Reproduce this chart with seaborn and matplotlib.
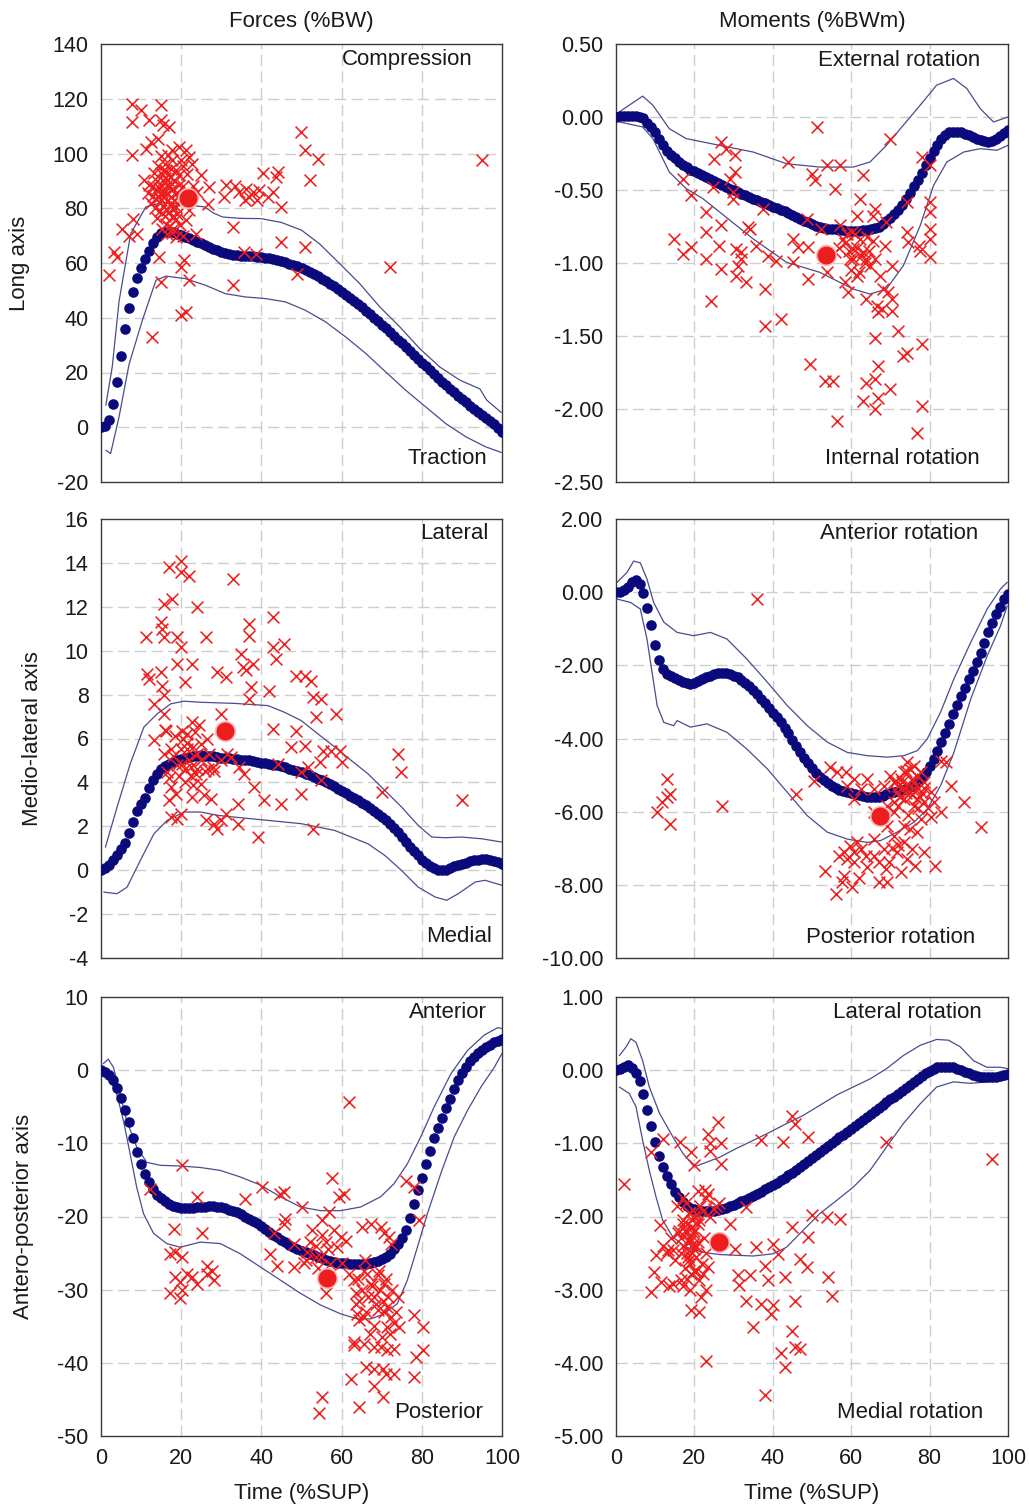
import matplotlib
matplotlib.use("Agg")
import matplotlib.pyplot as plt
import seaborn as sns

# ---------------------------------------------------------------------------
# Time base of the averaged curves (% of support phase)
TIME = list(range(101))

# Mean curves, one value per percent of the support phase
long_force_mean = [
    0, 0.3, 2.5, 8.5, 16.5, 26, 36, 43.5, 49.5, 54.5, 58, 61.3, 64.5, 67.3, 69.5, 71, 71.5, 71.5, 71.2, 70.7,
    70.2, 69.6, 69, 68.4, 67.8, 67.2, 66.5, 65.8, 65.2, 64.6, 64.1, 63.7, 63.3, 63.1, 62.9, 62.7, 62.6, 62.5, 62.4, 62.3,
    62.2, 62.0, 61.8, 61.5, 61.2, 60.8, 60.3, 59.8, 59.3, 58.8, 58.2, 57.5, 56.8, 56.0, 55.2, 54.3, 53.4, 52.5, 51.5, 50.5,
    49.5, 48.4, 47.3, 46.2, 45.0, 43.8, 42.6, 41.3, 40.0, 38.7, 37.4, 36.1, 34.8, 33.4, 32.0, 30.6, 29.2, 27.8, 26.4, 25.0,
    23.6, 22.2, 20.8, 19.4, 18.0, 16.7, 15.4, 14.1, 12.8, 11.5, 10.3, 9.1, 7.9, 6.8, 5.7, 4.6, 3.5, 2.4, 1.2, -0.3, -1.7]

long_moment_mean = [
    0, 0.01, 0.01, 0.01, 0.01, 0.01, 0.0, -0.01, -0.04, -0.07, -0.1, -0.15, -0.19, -0.23, -0.26, -0.28, -0.31, -0.33, -0.345, -0.36,
    -0.37, -0.385, -0.40, -0.41, -0.425, -0.44, -0.45, -0.465, -0.48, -0.49, -0.50, -0.515, -0.525, -0.535, -0.545, -0.56, -0.57, -0.58, -0.59, -0.60,
    -0.615, -0.625, -0.635, -0.645, -0.66, -0.67, -0.685, -0.70, -0.71, -0.72, -0.735, -0.745, -0.755, -0.76, -0.765, -0.77, -0.77, -0.775, -0.775, -0.78,
    -0.78, -0.78, -0.78, -0.775, -0.775, -0.77, -0.76, -0.75, -0.735, -0.715, -0.69, -0.665, -0.635, -0.60, -0.56, -0.52, -0.475, -0.43, -0.385, -0.33,
    -0.28, -0.235, -0.19, -0.15, -0.12, -0.105, -0.10, -0.10, -0.105, -0.115, -0.125, -0.14, -0.15, -0.16, -0.165, -0.17, -0.165, -0.15, -0.13, -0.11, -0.09]

ml_force_mean = [
    0, 0.1, 0.25, 0.45, 0.67, 0.95, 1.25, 1.7, 2.2, 2.7, 3.0, 3.3, 3.75, 4.1, 4.4, 4.6, 4.75, 4.85, 4.95, 5.02,
    5.08, 5.12, 5.16, 5.2, 5.22, 5.23, 5.22, 5.2, 5.18, 5.15, 5.13, 5.11, 5.09, 5.07, 5.05, 5.04, 5.02, 5.0, 4.98, 4.94,
    4.9, 4.87, 4.83, 4.8, 4.77, 4.73, 4.68, 4.63, 4.58, 4.52, 4.46, 4.4, 4.33, 4.25, 4.17, 4.09, 4.0, 3.91, 3.82, 3.72,
    3.62, 3.51, 3.4, 3.29, 3.18, 3.07, 2.95, 2.83, 2.7, 2.57, 2.44, 2.3, 2.12, 1.94, 1.73, 1.5, 1.28, 1.07, 0.87, 0.67,
    0.48, 0.32, 0.18, 0.08, 0.02, -0.01, 0.0, 0.08, 0.18, 0.25, 0.3, 0.35, 0.4, 0.45, 0.48, 0.5, 0.5, 0.47, 0.42, 0.36, 0.3]

ml_moment_mean = [
    0, 0.01, 0.06, 0.15, 0.27, 0.33, 0.22, -0.03, -0.42, -0.9, -1.44, -1.85, -2.1, -2.24, -2.3, -2.35, -2.4, -2.45, -2.49, -2.51,
    -2.49, -2.44, -2.38, -2.33, -2.28, -2.24, -2.22, -2.21, -2.22, -2.24, -2.28, -2.33, -2.39, -2.47, -2.57, -2.68, -2.79, -2.91, -3.03, -3.16,
    -3.29, -3.42, -3.56, -3.71, -3.86, -4.03, -4.2, -4.36, -4.52, -4.67, -4.8, -4.93, -5.04, -5.13, -5.21, -5.29, -5.35, -5.4, -5.44, -5.47,
    -5.5, -5.53, -5.55, -5.58, -5.6, -5.61, -5.61, -5.6, -5.57, -5.53, -5.5, -5.47, -5.44, -5.41, -5.38, -5.33, -5.28, -5.2, -5.08, -4.92,
    -4.75, -4.55, -4.33, -4.1, -3.86, -3.6, -3.33, -3.08, -2.85, -2.62, -2.38, -2.15, -1.9, -1.65, -1.38, -1.1, -0.83, -0.6, -0.4, -0.2, -0.05]

ap_force_mean = [
    0, -0.2, -0.6, -1.3, -2.4, -3.8, -5.5, -7.1, -9.3, -11.2, -12.8, -14.2, -15.3, -16.2, -17.0, -17.5, -17.9, -18.3, -18.6, -18.75,
    -18.8, -18.85, -18.85, -18.8, -18.75, -18.7, -18.65, -18.6, -18.6, -18.65, -18.75, -18.9, -19.05, -19.2, -19.45, -19.7, -20.0, -20.3, -20.6, -20.9,
    -21.3, -21.7, -22.1, -22.5, -22.85, -23.2, -23.55, -23.9, -24.2, -24.45, -24.7, -24.9, -25.1, -25.3, -25.5, -25.7, -25.9, -26.05, -26.2, -26.3,
    -26.35, -26.4, -26.45, -26.5, -26.5, -26.5, -26.45, -26.35, -26.25, -26.1, -25.85, -25.5, -25.1, -24.5, -23.8, -23.0, -21.9, -20.2, -18.3, -16.4,
    -14.7, -12.8, -11.0, -9.3, -7.9, -6.5, -5.2, -3.9, -2.6, -1.4, -0.4, 0.5, 1.2, 1.8, 2.3, 2.8, 3.2, 3.5, 3.8, 4.0, 4.2]

ap_moment_mean = [
    0, 0.02, 0.05, 0.07, 0.03, -0.04, -0.15, -0.33, -0.55, -0.76, -0.98, -1.17, -1.33, -1.45, -1.56, -1.66, -1.74, -1.8, -1.85, -1.88,
    -1.9, -1.92, -1.93, -1.93, -1.93, -1.92, -1.91, -1.9, -1.88, -1.86, -1.84, -1.82, -1.79, -1.77, -1.75, -1.72, -1.69, -1.66, -1.63, -1.6,
    -1.57, -1.54, -1.5, -1.47, -1.43, -1.4, -1.36, -1.32, -1.28, -1.24, -1.2, -1.16, -1.12, -1.08, -1.04, -1.0, -0.96, -0.92, -0.88, -0.84,
    -0.8, -0.76, -0.72, -0.68, -0.64, -0.6, -0.56, -0.52, -0.48, -0.44, -0.4, -0.36, -0.32, -0.28, -0.24, -0.2, -0.16, -0.12, -0.08, -0.04,
    -0.01, 0.02, 0.04, 0.05, 0.05, 0.05, 0.04, 0.02, 0.0, -0.02, -0.04, -0.06, -0.08, -0.09, -0.1, -0.1, -0.1, -0.09, -0.08, -0.06, -0.05]

# +/- 1 SD envelopes (time, value)
long_force_upper_t = [1.2, 2.8, 4.5, 7.4, 11.2, 15, 20, 25.8, 28, 30.3, 35, 40, 45, 50, 54.5, 59.5, 64.5, 69.5, 74.5, 79.5, 84.5, 89.5, 94.5, 96.2, 99.8]
long_force_upper = [8, 22, 46, 70.7, 80.5, 82, 81.5, 80.5, 78.3, 76.8, 76.3, 76.2, 74.8, 72, 67, 59.8, 52.5, 44, 36.7, 28.7, 22, 17.2, 14, 9.9, 5.4]
long_force_lower_t = [1.2, 2.4, 4.5, 7, 10.3, 13.7, 16.2, 21, 26, 31, 36, 41, 46, 51, 56, 61, 66, 71, 76, 81, 86, 91, 96, 99.8]
long_force_lower = [-8.4, -9.6, 3.8, 23, 39, 53.7, 55.2, 54.3, 51.9, 48.8, 47.6, 47, 45.8, 42.7, 38.5, 33, 27, 20.2, 13.5, 7.4, 1.3, -3.5, -7.2, -9.2]

long_moment_upper_t = [0.85, 6.8, 9.4, 13.6, 17.9, 26.4, 35, 43.5, 52, 60.5, 64.8, 69, 73.3, 77.6, 81.8, 86.1, 89.5, 92.9, 96.3, 100]
long_moment_upper = [0.035, 0.143, 0.081, -0.08, -0.148, -0.194, -0.24, -0.32, -0.343, -0.343, -0.308, -0.194, -0.056, 0.081, 0.218, 0.264, 0.195, 0.058, -0.034, 0.0]
long_moment_lower_t = [0.85, 6.8, 9.4, 13.6, 17.9, 22.2, 26.4, 35, 43.5, 52, 60.5, 64.8, 69, 73.3, 77.6, 81, 84.4, 88.7, 92.9, 97.2, 100]
long_moment_lower = [-0.034, -0.068, -0.148, -0.377, -0.49, -0.56, -0.65, -0.835, -0.995, -1.064, -1.178, -1.213, -1.178, -1.018, -0.744, -0.469, -0.308, -0.24, -0.217, -0.228, -0.194]

ml_force_upper_t = [1.1, 4, 7.3, 10.7, 14, 17.4, 20.7, 24.9, 33.2, 41.6, 45.7, 49.9, 54.1, 58.3, 62.4, 66.6, 70.8, 75, 79.1, 82.5, 85.8, 90, 95, 100]
ml_force_upper = [1.05, 2.87, 4.85, 6.52, 7.12, 7.58, 7.7, 7.65, 7.6, 7.5, 7.2, 6.82, 6.21, 5.61, 5.0, 4.39, 3.63, 2.87, 2.04, 1.51, 1.48, 1.51, 1.43, 1.28]
ml_force_lower_t = [0.7, 4, 6.5, 9.8, 13.2, 16.5, 20.7, 24.9, 29, 33.2, 41.6, 49.9, 58.3, 66.6, 70.8, 75, 79.1, 83.3, 86.2, 89.1, 93.3, 95.8, 100]
ml_force_lower = [-1.0, -1.07, -0.77, 0.44, 1.66, 2.27, 2.65, 2.65, 2.5, 2.42, 2.27, 2.12, 1.81, 1.2, 0.67, -0.02, -0.77, -1.22, -1.37, -1.07, -0.54, -0.46, -0.69]

ml_moment_upper_t = [0.3, 2.8, 4.5, 6.2, 7.9, 9.6, 12.2, 15.6, 19.8, 24.1, 28.3, 33.4, 38.6, 43.7, 48.8, 53.9, 59, 64.1, 69.2, 73.4, 76.9, 79.4, 82.8, 86.2, 90.5, 94.7, 98.1, 99.8]
ml_moment_upper = [0.27, 0.54, 0.85, 0.8, 0.36, -0.28, -0.82, -1.1, -1.19, -1.1, -1.28, -1.83, -2.46, -3.1, -3.65, -4.1, -4.38, -4.47, -4.51, -4.47, -4.33, -4.01, -3.28, -2.37, -1.37, -0.46, 0.09, 0.27]
ml_moment_lower_t = [0.3, 3.7, 6.2, 7.9, 9.2, 10.5, 12.2, 14.7, 15.6, 19, 23.2, 28.3, 33.4, 38.6, 43.7, 48.8, 53.9, 59, 64.1, 67.5, 71.7, 76, 79.4, 82.8, 86.2, 90.5, 94.7, 98.1, 99.8]
ml_moment_lower = [-0.19, -0.28, -0.46, -1.28, -2.19, -3.1, -3.56, -3.65, -3.51, -3.69, -3.6, -3.83, -4.29, -4.83, -5.47, -6.11, -6.56, -6.75, -6.84, -6.79, -6.56, -6.29, -5.93, -5.29, -4.38, -2.92, -1.74, -0.92, -0.37]

ap_force_upper_t = [0.6, 1.8, 3.1, 4.75, 6.4, 8.9, 11.4, 14.75, 19.75, 24.75, 29.75, 34.75, 39.75, 44.75, 49.75, 54.75, 59.75, 64.75, 69.75, 73.1, 76.4, 79.75, 83.1, 87.25, 91.4, 95.6, 98.9, 100]
ap_force_upper = [0.9, 1.5, 0.4, -3.2, -6.9, -10.5, -12.6, -13, -13.1, -13.3, -13.7, -14.6, -15.7, -17.3, -18.7, -19.2, -19.2, -18.7, -17.3, -15.5, -12.8, -9.1, -5, -0.5, 2.7, 4.8, 5.8, 5.7]
ap_force_lower_t = [0.6, 2.25, 3.9, 5.6, 7.25, 8.9, 10.6, 13.1, 16.4, 19.75, 24.75, 29.75, 34.75, 39.75, 44.75, 49.75, 54.75, 59.75, 63.9, 67.25, 70.6, 73.9, 76.4, 78.9, 81.4, 84.75, 88.1, 91.4, 94.75, 98.1, 100]
ap_force_lower = [-0.5, -1.4, -3.2, -6.9, -11.4, -16, -19.6, -22.3, -23.7, -24.2, -23.5, -23.7, -25.1, -26.9, -28.7, -30.5, -32.1, -33.3, -34, -34, -33.3, -31.9, -28.7, -24.2, -19.6, -14.1, -9.1, -5.5, -2.3, 0.4, 2.3]

ap_moment_upper_t = [0.85, 2.6, 3.8, 5.1, 6.8, 8.5, 11.1, 14.5, 17.1, 20, 23, 26.4, 30.7, 35, 39.2, 43.5, 47.7, 52, 56.3, 60.5, 64.8, 69, 73.3, 77.6, 81.8, 84.8, 87.8, 91.2, 94.6, 98, 100]
ap_moment_upper = [0.2, 0.32, 0.43, 0.38, 0.13, -0.23, -0.59, -0.91, -1.14, -1.32, -1.26, -1.19, -1.07, -0.96, -0.85, -0.73, -0.62, -0.48, -0.34, -0.23, -0.12, 0.02, 0.2, 0.34, 0.42, 0.41, 0.32, 0.13, 0.04, 0.04, 0.02]
ap_moment_lower_t = [0.85, 3.4, 5.1, 6.8, 8.5, 10.2, 11.9, 14.5, 17.9, 22.2, 26.4, 30.7, 35, 40.1, 43.5, 47.7, 52, 56.3, 60.5, 64.8, 69, 73.3, 77.6, 81.8, 86.1, 90.4, 94.6, 98, 100]
ap_moment_lower = [-0.23, -0.32, -0.5, -0.96, -1.37, -1.73, -2.05, -2.28, -2.42, -2.49, -2.52, -2.53, -2.54, -2.51, -2.42, -2.19, -1.96, -1.78, -1.6, -1.37, -1.05, -0.73, -0.46, -0.23, -0.16, -0.18, -0.16, -0.14, -0.12]

# Individual peak values (time, value)
long_force_peaks = [
    (2.0, 55.5), (3.3, 64.0), (4.1, 62.2), (5.2, 72.6), (7.0, 70.0), (8.0, 76.0), (9.0, 70.7),
    (7.8, 118.2), (9.9, 115.8), (14.9, 117.6), (7.8, 111.5), (12.0, 112.1), (14.9, 112.1), (15.5, 110.5), (17.0, 109.7),
    (14.1, 105.4), (12.4, 104.2), (7.8, 99.4), (11.2, 101.8), (17.8, 101.2), (19.5, 102.4), (21.2, 101.2), (17.8, 97.5),
    (19.9, 97.5), (22.0, 98.7), (22.8, 96.3), (10.75, 90.2), (13.25, 92.7), (15.75, 93.9), (16.6, 90.2), (18.7, 93.9),
    (11.6, 85.4), (13.7, 86.6), (14.9, 82.9), (17.4, 84.1), (18.7, 80.5), (15.3, 78.1), (17.8, 76.8), (16.2, 74.4),
    (21.2, 75.6), (22.0, 79.3), (26.6, 81.7), (27.0, 87.8), (31.2, 88.4), (30.75, 84.1), (32.8, 73.2),
    (13.0, 88.0), (14.0, 90.0), (15.0, 88.5), (16.0, 86.0), (17.0, 88.0), (18.0, 87.0), (14.5, 84.0), (15.5, 81.0),
    (16.5, 79.5), (17.5, 81.5), (18.5, 90.0), (19.0, 85.5), (20.0, 83.0), (20.5, 88.0), (19.5, 92.0), (13.5, 80.0),
    (12.5, 82.0), (16.0, 96.0), (15.0, 99.0), (18.0, 72.5), (16.5, 70.5), (19.0, 78.0), (20.5, 70.0), (14.0, 76.5),
    (21.5, 92.5), (17.5, 94.5), (15.8, 84.5), (18.2, 83.0), (14.2, 95.5), (16.8, 99.5), (13.8, 83.5), (16.0, 91.0),
    (17.2, 91.5), (15.2, 86.0), (18.8, 76.0), (17.0, 73.0), (19.8, 74.0), (16.4, 82.5), (14.6, 79.0), (20.4, 95.5),
    (15.5, 90.5), (16.5, 88.5), (17.5, 86.5), (14.5, 87.5), (15.0, 93.0), (16.2, 93.5), (18.0, 80.0), (17.0, 78.5),
    (16.0, 77.0), (19.5, 88.5), (13.0, 84.5), (12.0, 88.5), (17.8, 71.0), (18.6, 69.5), (15.2, 72.5),
    (14.5, 62.2), (14.9, 53.0), (19.9, 58.6), (20.75, 61.0), (19.9, 41.0), (21.2, 42.0), (22.0, 53.7), (23.7, 70.7),
    (12.8, 33.0), (32.8, 51.9), (34.5, 86.0), (36.2, 87.2), (37.0, 84.1), (37.8, 86.0), (39.0, 83.0), (40.3, 92.7),
    (41.6, 84.0), (43.7, 91.4), (44.2, 93.3), (44.9, 80.5), (42.8, 86.0), (44.9, 67.7), (35.75, 64.0), (38.7, 63.4),
    (49.9, 107.9), (50.75, 101.2), (52.0, 90.2), (54.0, 98.1), (50.75, 65.9), (49.0, 56.1), (72.0, 58.6), (95.0, 97.5),
    (33.5, 88.0), (36.0, 83.0), (39.5, 86.5), (24.0, 86.0), (25.0, 92.0), (23.0, 88.0)]

long_moment_peaks = [
    (14.9, -0.835), (17.0, -0.938), (19.2, -0.892), (17.0, -0.423), (19.2, -0.537), (23.0, -0.652), (23.0, -0.789),
    (23.0, -0.972), (24.3, -1.259), (25.1, -0.285), (26.9, -0.171), (28.1, -0.217), (30.3, -0.263), (24.7, -0.48),
    (29.0, -0.423), (30.3, -0.377), (26.9, -0.743), (26.4, -0.881), (26.9, -1.041), (29.8, -0.514), (29.8, -0.56),
    (30.7, -0.904), (32.0, -0.927), (32.0, -0.972), (31.1, -1.018), (30.7, -1.087), (33.2, -1.133), (33.7, -0.755),
    (34.1, -0.766), (35.8, -0.881), (37.5, -0.629), (38.8, -0.95), (37.9, -1.178), (37.9, -1.43), (40.9, -0.984),
    (42.2, -1.385), (43.9, -0.308), (45.2, -0.835), (45.2, -0.995), (46.5, -0.892), (48.6, -0.698), (49.0, -0.892),
    (49.0, -1.11), (49.4, -1.694), (49.9, -0.388), (50.7, -0.434), (51.2, -0.068), (52.4, -0.766), (53.3, -0.95),
    (53.7, -0.331), (55.8, -0.927), (53.7, -1.064), (53.3, -1.808), (55.4, -1.808), (56.3, -2.083), (55.8, -0.491),
    (57.1, -0.331), (57.1, -0.743), (58.0, -0.835), (58.4, -1.133), (59.2, -1.201), (59.7, -0.972), (60.1, -0.789),
    (61.4, -0.675), (62.2, -0.56), (63.1, -0.4), (60.5, -0.904), (62.2, -0.835), (63.1, -0.927), (63.9, -0.972),
    (64.8, -1.018), (61.4, -1.087), (63.9, -1.247), (65.6, -0.675), (66.1, -0.629), (66.1, -1.511), (66.5, -1.293),
    (66.9, -1.339), (67.8, -1.316), (66.9, -1.705), (66.1, -1.797), (63.9, -1.82), (63.1, -1.946), (66.1, -2.003),
    (66.9, -1.923), (70.0, -1.866), (68.2, -1.178), (68.6, -0.881), (67.3, -1.087), (69.0, -0.721), (70.0, -0.148),
    (70.3, -1.018), (69.5, -1.201), (70.3, -1.327), (70.3, -1.247), (72.0, -1.465), (74.2, -1.614), (73.3, -1.636),
    (74.2, -0.583), (74.2, -0.789), (74.6, -0.858), (77.2, -0.881), (77.6, -0.915), (78.0, -0.274), (78.0, -1.556),
    (78.0, -1.98), (76.7, -2.163), (80.1, -0.331), (80.1, -0.583), (80.1, -0.652), (80.1, -0.766), (80.1, -0.835),
    (80.1, -0.961), (58.5, -0.86), (59.5, -0.92), (60.5, -0.97), (61.5, -0.9), (62.5, -0.95), (63.5, -1.0),
    (64.5, -0.92), (65.5, -0.85), (60.0, -1.05), (62.0, -1.06), (59.0, -0.8), (57.0, -0.9), (66.0, -0.97),
    (64.0, -0.82), (61.0, -0.8)]

ml_force_peaks = [
    (11.1, 10.61), (11.5, 8.94), (11.9, 8.72), (13.2, 7.58), (13.2, 5.91), (14.9, 11.3), (15.3, 10.99), (15.7, 10.61),
    (15.7, 12.13), (17.0, 13.8), (17.8, 12.36), (14.9, 9.02), (15.3, 8.41), (15.7, 7.96), (15.7, 7.12), (16.1, 6.36),
    (15.7, 5.3), (16.5, 4.47), (17.4, 3.78), (17.0, 3.18), (17.4, 2.42), (18.6, 3.48), (19.0, 10.61), (19.9, 10.16),
    (19.9, 14.1), (19.9, 13.57), (22.0, 13.42), (19.0, 9.4), (21.0, 8.56), (22.8, 9.4), (24.0, 11.98), (26.1, 10.61),
    (20.3, 6.36), (21.5, 6.21), (22.8, 6.74), (21.5, 5.53), (20.3, 4.85), (22.4, 4.7), (24.0, 5.3), (24.9, 5.76),
    (23.6, 4.39), (24.9, 3.94), (22.8, 3.33), (19.9, 2.57), (19.0, 2.34), (25.7, 3.41), (26.1, 2.27), (27.4, 3.25),
    (28.2, 2.12), (29.0, 1.89), (29.9, 2.27), (31.1, 2.57), (29.0, 9.02), (31.1, 8.79), (29.9, 7.12), (26.6, 4.62),
    (28.2, 4.54), (29.9, 5.0), (31.5, 5.3), (32.4, 5.15), (33.0, 13.27), (34.5, 4.7), (35.7, 4.39), (34.1, 3.03),
    (34.1, 2.12), (34.9, 9.85), (35.3, 9.25), (36.1, 9.1), (37.0, 11.22), (37.0, 10.69), (37.4, 8.33), (37.8, 9.4),
    (37.0, 7.81), (38.2, 3.78), (39.1, 1.51), (40.7, 3.18), (42.0, 8.18), (42.8, 11.52), (42.8, 10.16), (43.7, 9.63),
    (42.8, 6.44), (44.9, 3.03), (45.7, 10.31), (44.1, 4.85), (48.7, 8.87), (50.8, 8.87), (52.4, 8.64), (52.8, 7.88),
    (54.9, 7.81), (53.7, 6.97), (58.7, 7.12), (48.7, 6.36), (50.8, 5.68), (47.4, 5.61), (49.9, 4.47), (51.6, 4.7),
    (54.5, 4.92), (55.3, 5.45), (57.4, 5.45), (59.5, 5.45), (60.1, 4.92), (49.9, 3.48), (54.9, 4.09), (52.8, 1.89),
    (70.0, 3.56), (74.1, 5.3), (74.9, 4.47), (90.0, 3.18), (18.0, 5.2), (19.0, 4.8), (20.0, 5.5), (21.0, 4.6),
    (22.0, 5.0), (22.5, 4.3), (23.0, 5.6), (24.0, 4.6), (25.0, 5.0), (26.0, 4.5), (27.0, 5.3), (28.0, 4.7),
    (19.5, 4.3), (20.5, 6.0), (21.5, 5.8), (23.5, 6.3), (24.5, 6.6), (26.5, 6.0), (21.0, 4.0), (23.0, 3.9),
    (17.5, 5.5), (18.5, 6.1), (16.0, 6.4), (17.0, 4.2)]

ml_moment_peaks = [
    (12.9, -5.11), (10.5, -6.02), (11.7, -5.74), (13.0, -5.61), (13.9, -5.52), (13.9, -6.34), (27.1, -5.84), (36.0, -0.19),
    (45.8, -5.52), (50.6, -5.15), (54.7, -4.79), (58.6, -4.92), (53.4, -7.61), (56.0, -8.25), (58.1, -7.75), (60.3, -8.07),
    (57.7, -7.93), (58.1, -7.11), (59.8, -6.93), (60.7, -7.11), (62.4, -7.02), (63.7, -7.2), (56.9, -7.2), (59.0, -7.29),
    (60.7, -7.38), (61.5, -6.84), (65.8, -6.75), (65.8, -7.2), (67.1, -7.38), (68.8, -7.57), (67.1, -7.93), (69.2, -7.93),
    (69.6, -7.38), (68.3, -7.02), (70.9, -6.66), (71.7, -7.11), (73.4, -6.84), (74.3, -7.29), (75.6, -7.02), (76.4, -7.48),
    (78.6, -7.11), (81.5, -7.48), (72.6, -7.66), (75.1, -6.47), (73.4, -6.38), (77.7, -6.2), (76.9, -6.56), (69.2, -6.38),
    (60.7, -5.11), (62.4, -5.38), (60.7, -5.65), (59.0, -5.29), (56.4, -4.92), (64.1, -5.11), (65.8, -5.38), (68.3, -5.29),
    (70.0, -5.02), (70.9, -5.2), (72.6, -5.11), (73.4, -4.92), (74.3, -4.65), (75.1, -4.83), (76.9, -5.02), (77.7, -4.92),
    (78.6, -5.2), (71.7, -5.47), (73.4, -5.65), (75.1, -5.47), (76.9, -5.65), (78.6, -5.74), (80.3, -5.47), (81.1, -5.74),
    (82.8, -6.02), (82.8, -4.61), (84.1, -4.65), (85.4, -5.29), (88.8, -5.74), (93.0, -6.43), (69.2, -5.84), (70.9, -5.74),
    (76.0, -5.84), (80.3, -6.15), (65.8, -6.02), (72.0, -5.3), (74.0, -5.5), (76.0, -5.2), (78.0, -5.5), (73.0, -5.2),
    (75.5, -5.1), (77.0, -5.35), (71.0, -6.0), (74.5, -6.1), (64.0, -7.5), (62.0, -7.8), (70.5, -7.0), (72.0, -6.9),
    (72.5, -5.6), (73.5, -5.35), (74.5, -5.25), (75.5, -5.55), (76.5, -5.4), (77.5, -5.6), (78.5, -5.35), (74.0, -4.9),
    (76.0, -4.75), (72.0, -5.85), (77.0, -5.9), (79.5, -5.9), (71.5, -5.15)]

ap_force_peaks = [
    (12.25, -16.2), (20.2, -13.0), (18.1, -21.7), (23.9, -17.3), (25.2, -22.3), (17.25, -25.1), (18.5, -24.9),
    (20.2, -25.5), (18.5, -28.3), (19.75, -29.0), (21.4, -27.8), (22.7, -28.3), (23.9, -29.2), (20.2, -30.1),
    (17.25, -30.5), (19.75, -31.2), (26.4, -26.7), (27.75, -27.4), (28.1, -28.7), (26.4, -27.8), (36.0, -17.6),
    (40.2, -16.0), (44.75, -16.9), (45.7, -16.7), (50.2, -18.7), (42.25, -25.1), (43.9, -26.7), (45.6, -21.0),
    (46.0, -20.3), (43.1, -22.3), (48.1, -23.7), (48.1, -26.9), (50.6, -26.4), (51.4, -24.9), (52.7, -21.9),
    (53.5, -25.5), (55.2, -20.5), (56.8, -19.4), (56.0, -23.5), (54.75, -25.5), (56.0, -30.5), (57.7, -14.8),
    (60.6, -16.9), (59.3, -17.3), (58.1, -21.9), (59.75, -22.8), (61.0, -23.3), (58.9, -24.2), (61.8, -4.4),
    (60.2, -26.4), (61.8, -27.8), (63.1, -28.7), (63.5, -30.5), (64.3, -31.5), (63.9, -33.3), (65.2, -21.4),
    (67.25, -21.0), (65.9, -26.0), (66.4, -27.8), (67.25, -29.2), (68.1, -31.0), (69.75, -21.4), (70.6, -22.3),
    (71.8, -22.8), (72.25, -23.7), (69.3, -27.4), (70.6, -29.2), (70.2, -31.5), (71.4, -32.4), (72.25, -33.7),
    (73.1, -34.6), (74.3, -35.1), (71.4, -35.1), (69.0, -32.8), (65.6, -33.7), (64.3, -34.2), (63.1, -37.2),
    (63.1, -37.6), (65.6, -37.4), (68.1, -37.8), (69.75, -37.8), (71.4, -38.3), (73.1, -38.1), (66.0, -40.6),
    (68.1, -40.8), (70.2, -40.8), (71.0, -41.5), (73.1, -41.5), (68.1, -43.1), (70.2, -44.7), (62.25, -42.2),
    (64.3, -46.0), (55.2, -44.7), (54.3, -46.9), (76.0, -15.1), (78.1, -16.0), (79.3, -20.5), (78.1, -33.5),
    (80.2, -35.1), (78.5, -39.2), (80.2, -38.3), (78.1, -41.9), (64.0, -28.5), (65.0, -30.0), (66.5, -31.0),
    (67.5, -29.5), (68.5, -32.0), (69.5, -30.0), (70.5, -33.0), (71.5, -31.0), (72.5, -30.0), (66.0, -33.0),
    (68.0, -35.0), (65.5, -27.5), (69.0, -28.0), (71.0, -28.5), (63.5, -32.0), (67.0, -36.0), (70.0, -36.5),
    (72.0, -36.0), (73.5, -33.0), (74.0, -31.0), (52.0, -23.5), (53.5, -24.0), (55.0, -22.5), (56.5, -24.5),
    (57.0, -26.5), (54.0, -27.0), (51.0, -26.0)]

ap_moment_peaks = [
    (2.1, -1.56), (9.0, -1.12), (9.0, -3.03), (9.8, -2.76), (10.2, -2.53), (11.1, -2.12), (11.9, -0.94), (13.2, -2.46),
    (14.5, -2.46), (15.8, -2.23), (14.5, -2.92), (16.6, -2.87), (16.2, -0.98), (19.2, -1.12), (20.0, -1.3), (17.9, -1.82),
    (17.1, -2.05), (17.9, -2.19), (18.8, -2.33), (18.3, -2.55), (19.6, -2.23), (19.6, -2.37), (18.8, -3.01), (19.2, -3.28),
    (21.2, -3.31), (19.2, -2.78), (20.5, -2.74), (21.3, -2.87), (22.2, -2.78), (23.5, -2.69), (23.0, -3.01), (21.7, -3.1),
    (23.0, -3.97), (20.5, -1.96), (22.2, -1.92), (23.5, -1.69), (22.6, -1.64), (21.3, -2.05), (23.5, -0.87), (23.9, -1.1),
    (23.9, -1.0), (26.0, -0.71), (26.9, -1.0), (26.9, -1.28), (25.6, -1.85), (26.4, -1.82), (29.0, -2.1), (30.3, -2.44),
    (31.1, -2.8), (31.5, -2.94), (33.2, -3.15), (34.1, -2.8), (33.2, -1.87), (35.8, -2.42), (37.1, -0.96), (37.9, -2.67),
    (38.8, -2.87), (37.1, -3.19), (40.1, -3.21), (39.6, -3.33), (35.0, -3.51), (37.9, -4.44), (40.1, -2.37), (41.3, -2.51),
    (42.6, -0.98), (43.0, -2.83), (44.8, -0.62), (45.6, -0.73), (49.0, -0.91), (44.8, -2.14), (45.6, -3.15), (46.9, -2.58),
    (48.6, -2.69), (49.0, -2.28), (49.9, -1.98), (44.8, -3.56), (45.6, -3.78), (46.9, -3.81), (42.2, -3.87), (43.0, -4.06),
    (53.7, -2.0), (57.1, -2.03), (54.1, -2.83), (55.0, -3.08), (69.0, -0.98), (95.9, -1.21),
    (16.0, -2.2), (17.0, -2.4), (18.0, -2.1), (18.5, -2.6), (19.0, -2.3), (19.5, -2.5), (20.0, -2.2), (20.5, -2.4),
    (21.0, -2.1), (17.5, -2.7), (16.5, -2.5), (19.0, -1.95), (20.0, -2.0), (21.5, -1.85), (22.5, -2.3), (15.0, -2.6),
    (14.0, -2.3), (13.0, -2.5), (12.0, -2.4), (11.5, -2.9), (13.5, -2.95), (17.0, -2.95), (18.0, -2.85), (20.0, -2.75),
    (22.0, -2.65), (23.0, -2.5), (24.0, -2.0), (25.0, -1.9), (15.5, -1.85), (17.0, -1.75), (21.0, -1.65), (23.0, -1.75),
    (17.5, -2.2), (18.5, -2.35), (19.5, -2.15), (20.5, -2.55), (18.0, -2.5), (19.0, -2.65), (21.0, -2.35), (17.0, -2.1),
    (20.0, -2.45), (19.5, -2.05), (16.5, -2.3), (18.5, -1.95)]

# Group average of the individual peaks (time, value)
long_force_avg_peak = (21.8, 83.9)
long_moment_avg_peak = (53.5, -0.945)
ml_force_avg_peak = (30.9, 6.36)
ml_moment_avg_peak = (67.3, -6.11)
ap_force_avg_peak = (56.4, -28.4)
ap_moment_avg_peak = (26.3, -2.35)

# Axis ranges and tick labels
long_force_ticks = [-20, 0, 20, 40, 60, 80, 100, 120, 140]
long_moment_ticks = [-2.5, -2.0, -1.5, -1.0, -0.5, 0.0, 0.5]
ml_force_ticks = [-4, -2, 0, 2, 4, 6, 8, 10, 12, 14, 16]
ml_moment_ticks = [-10, -8, -6, -4, -2, 0, 2]
ap_force_ticks = [-50, -40, -30, -20, -10, 0, 10]
ap_moment_ticks = [-5, -4, -3, -2, -1, 0, 1]
time_ticks = [0, 20, 40, 60, 80, 100]

column_titles = ["Forces (%BW)", "Moments (%BWm)"]
row_labels = ["Long axis", "Medio-lateral axis", "Antero-posterior axis"]
x_label = "Time (%SUP)"

# ---------------------------------------------------------------------------
NAVY = "#0a0a7c"
BAND = "#4b4b8f"
RED = "#ee1e1e"
GRID = "#cdcdcd"
TEXT = "#1a1a1a"

sns.set_theme(style="white")
plt.rcParams["font.family"] = ["Liberation Sans", "DejaVu Sans"]

W, H = 1029, 1507
fig = plt.figure(figsize=(W / 100, H / 100), dpi=100)

COLS = [(101, 502), (616, 1008)]
ROWS = [(44, 482), (519, 958), (997, 1436)]


def px_to_fig(x, y):
    return x / W, 1 - y / H


panels = [
    dict(row=0, col=0, mean=long_force_mean, ut=long_force_upper_t, u=long_force_upper,
         lt=long_force_lower_t, l=long_force_lower, peaks=long_force_peaks, avg=long_force_avg_peak,
         ticks=long_force_ticks, fmt="{:.0f}",
         top=("Compression", 473, 60), bottom=("Traction", 487, 459)),
    dict(row=0, col=1, mean=long_moment_mean, ut=long_moment_upper_t, u=long_moment_upper,
         lt=long_moment_lower_t, l=long_moment_lower, peaks=long_moment_peaks, avg=long_moment_avg_peak,
         ticks=long_moment_ticks, fmt="{:.2f}",
         top=("External rotation", 980, 60), bottom=("Internal rotation", 980, 459)),
    dict(row=1, col=0, mean=ml_force_mean, ut=ml_force_upper_t, u=ml_force_upper,
         lt=ml_force_lower_t, l=ml_force_lower, peaks=ml_force_peaks, avg=ml_force_avg_peak,
         ticks=ml_force_ticks, fmt="{:.0f}",
         top=("Lateral", 488, 533), bottom=("Medial", 492, 937)),
    dict(row=1, col=1, mean=ml_moment_mean, ut=ml_moment_upper_t, u=ml_moment_upper,
         lt=ml_moment_lower_t, l=ml_moment_lower, peaks=ml_moment_peaks, avg=ml_moment_avg_peak,
         ticks=ml_moment_ticks, fmt="{:.2f}",
         top=("Anterior rotation", 978, 533), bottom=("Posterior rotation", 975, 938)),
    dict(row=2, col=0, mean=ap_force_mean, ut=ap_force_upper_t, u=ap_force_upper,
         lt=ap_force_lower_t, l=ap_force_lower, peaks=ap_force_peaks, avg=ap_force_avg_peak,
         ticks=ap_force_ticks, fmt="{:.0f}",
         top=("Anterior", 487, 1012), bottom=("Posterior", 483, 1413)),
    dict(row=2, col=1, mean=ap_moment_mean, ut=ap_moment_upper_t, u=ap_moment_upper,
         lt=ap_moment_lower_t, l=ap_moment_lower, peaks=ap_moment_peaks, avg=ap_moment_avg_peak,
         ticks=ap_moment_ticks, fmt="{:.2f}",
         top=("Lateral rotation", 982, 1013), bottom=("Medial rotation", 983, 1413)),
]

for p in panels:
    x0, x1 = COLS[p["col"]]
    y0, y1 = ROWS[p["row"]]
    ax = fig.add_axes([x0 / W, 1 - y1 / H, (x1 - x0) / W, (y1 - y0) / H])
    ticks = p["ticks"]
    ax.set_xlim(0, 100)
    ax.set_ylim(ticks[0], ticks[-1])

    # dashed reference grid
    for yv in ticks[1:-1]:
        ax.axhline(yv, color=GRID, lw=1.0, dashes=(8, 4), zorder=0)
    for xv in time_ticks[1:-1]:
        ax.axvline(xv, color=GRID, lw=1.0, dashes=(8, 4), zorder=0)

    # SD envelope
    sns.lineplot(x=p["ut"], y=p["u"], ax=ax, color=BAND, lw=0.9, estimator=None, sort=False, zorder=2)
    sns.lineplot(x=p["lt"], y=p["l"], ax=ax, color=BAND, lw=0.9, estimator=None, sort=False, zorder=2)

    # mean curve
    sns.scatterplot(x=TIME, y=p["mean"], ax=ax, color=NAVY, s=58, linewidth=0, zorder=3)

    # individual peaks
    px_, py_ = zip(*p["peaks"])
    sns.scatterplot(x=list(px_), y=list(py_), ax=ax, marker="x", color=RED, s=72, linewidth=1.15, zorder=4)

    # average peak
    sns.scatterplot(x=[p["avg"][0]], y=[p["avg"][1]], ax=ax, color=RED, s=200,
                    edgecolor="#ffbcbc", linewidth=1.2, zorder=5)

    ax.set_yticks(ticks)
    ax.set_yticklabels([p["fmt"].format(v) for v in ticks])
    ax.set_xticks(time_ticks)
    if p["row"] == 2:
        ax.set_xticklabels([str(v) for v in time_ticks])
    else:
        ax.set_xticklabels([])
    ax.tick_params(length=0, labelsize=15.5, colors=TEXT, pad=9)
    ax.set_xlabel("")
    ax.set_ylabel("")
    for s in ax.spines.values():
        s.set_color("#3a3a3a")
        s.set_linewidth(1.0)
    ax.grid(False)

    for (txt, xr, yc) in (p["top"], p["bottom"]):
        fx, fy = px_to_fig(xr, yc)
        fig.text(fx, fy, txt, ha="right", va="center", fontsize=16, color=TEXT)

# column titles
for title, (x0, x1) in zip(column_titles, COLS):
    fx, fy = px_to_fig((x0 + x1) / 2, 21)
    fig.text(fx, fy, title, ha="center", va="center", fontsize=16, color=TEXT)

# row labels
for lab, (y0, y1), xc in zip(row_labels, ROWS, (20, 33, 24)):
    fx, fy = px_to_fig(xc, (y0 + y1) / 2)
    fig.text(fx, fy, lab, ha="center", va="center", rotation=90, fontsize=16, color=TEXT)

# time axis labels
for (x0, x1) in COLS:
    fx, fy = px_to_fig((x0 + x1) / 2, 1493)
    fig.text(fx, fy, x_label, ha="center", va="center", fontsize=16, color=TEXT)

fig.savefig("out.png", dpi=100, facecolor="white")
